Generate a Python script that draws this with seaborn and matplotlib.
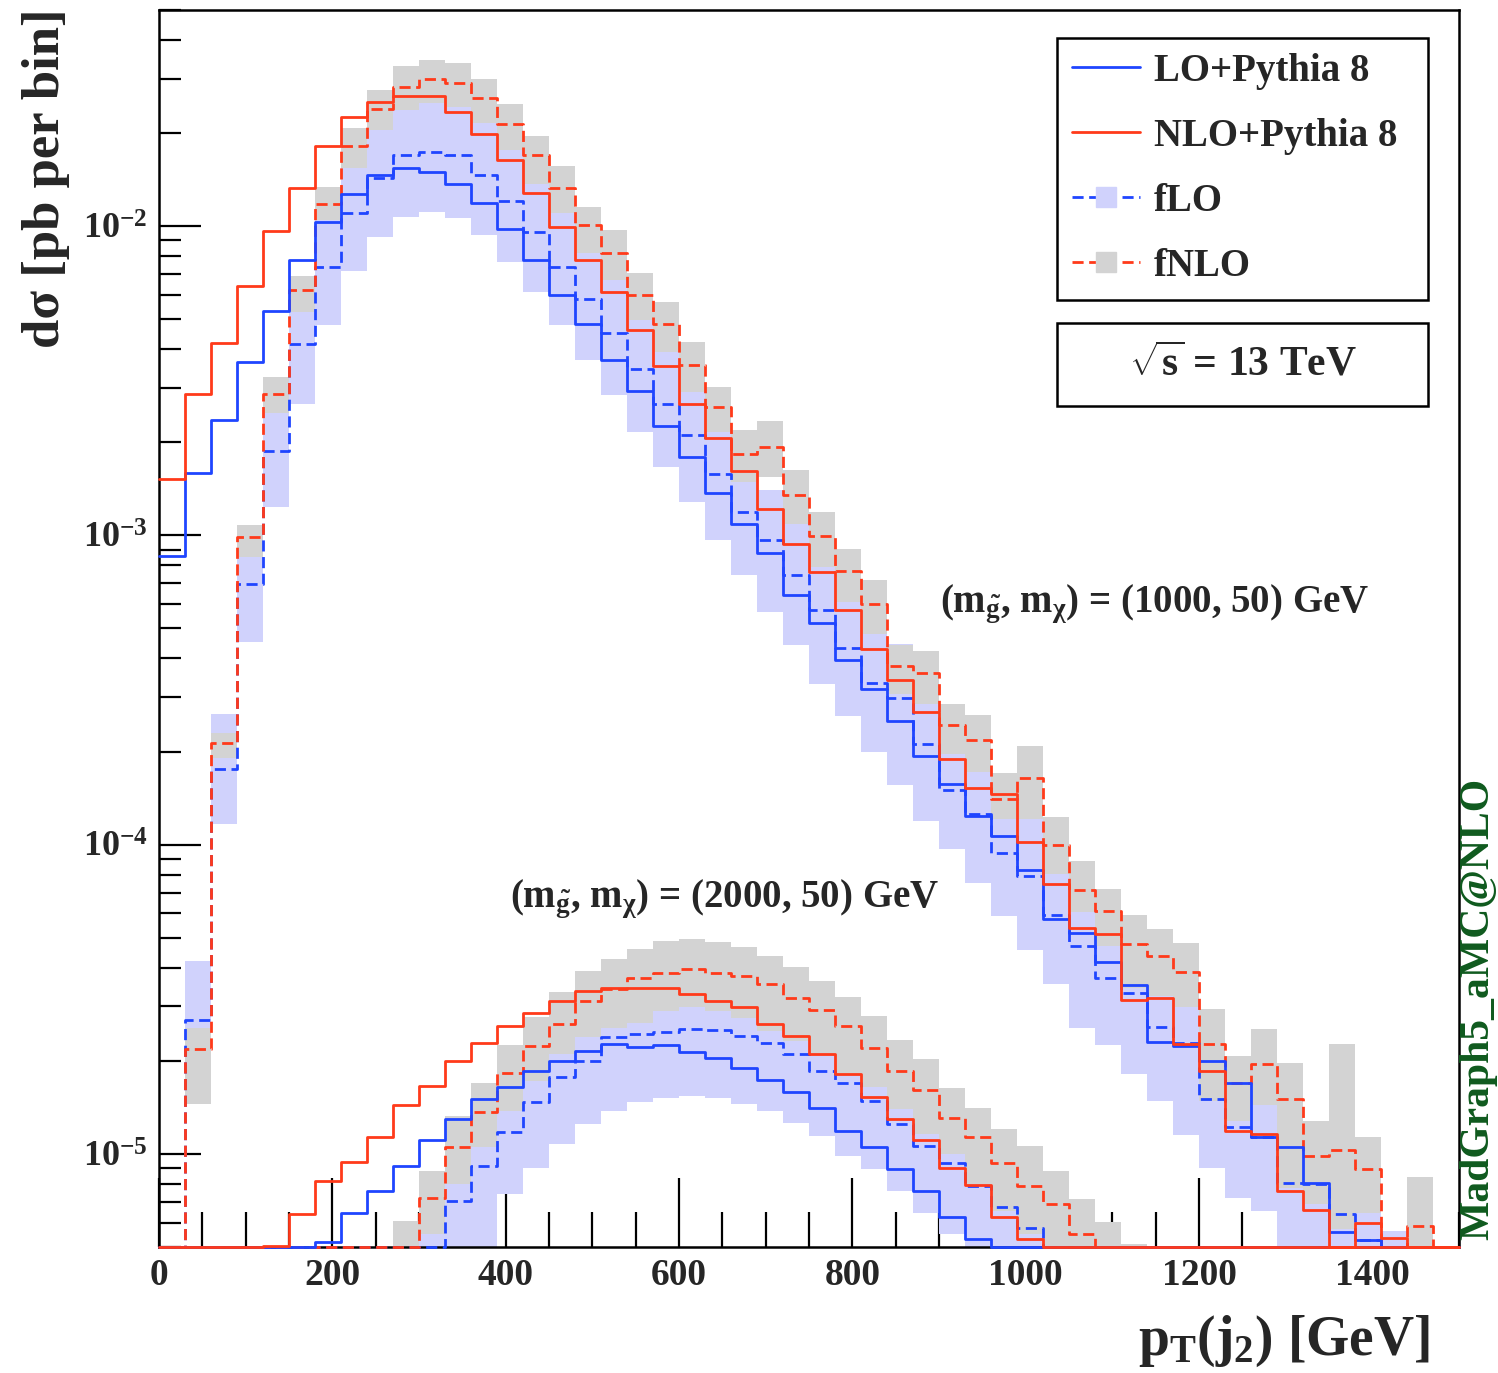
import numpy as np
import pandas as pd
import matplotlib
matplotlib.use("Agg")
import matplotlib.pyplot as plt
import seaborn as sns
from matplotlib.lines import Line2D
from matplotlib.patches import Rectangle
from matplotlib.ticker import MultipleLocator, LogLocator, FuncFormatter, NullFormatter

# ---------------- data: 50 bins of 30 GeV (pT(j2) from 0 to 1500 GeV) ----------------
bin_edges = np.arange(0, 1530, 30)

# (m_gluino, m_chi) = (1000, 50) GeV
lo_1000 = [8.55e-4, 1.59e-3, 2.37e-3, 3.64e-3, 5.32e-3, 7.77e-3, 1.03e-2, 1.27e-2, 1.46e-2, 1.54e-2,
           1.50e-2, 1.37e-2, 1.19e-2, 9.77e-3, 7.77e-3, 5.98e-3, 4.84e-3, 3.70e-3, 2.94e-3, 2.25e-3,
           1.79e-3, 1.37e-3, 1.09e-3, 8.76e-4, 6.43e-4, 5.22e-4, 3.94e-4, 3.19e-4, 2.52e-4, 1.94e-4,
           1.57e-4, 1.24e-4, 1.07e-4, 8.29e-5, 5.77e-5, 5.17e-5, 4.18e-5, 3.53e-5, 2.30e-5, 2.24e-5,
           2.00e-5, 1.69e-5, 1.13e-5, 1.05e-5, 8.07e-6, 5.60e-6, 5.25e-6, 0, 0, 0]
nlo_1000 = [1.52e-3, 2.87e-3, 4.19e-3, 6.41e-3, 9.66e-3, 1.33e-2, 1.82e-2, 2.25e-2, 2.52e-2, 2.64e-2,
            2.64e-2, 2.34e-2, 1.98e-2, 1.64e-2, 1.28e-2, 9.95e-3, 7.77e-3, 6.11e-3, 4.61e-3, 3.52e-3,
            2.67e-3, 2.06e-3, 1.62e-3, 1.22e-3, 9.40e-4, 7.60e-4, 5.72e-4, 4.30e-4, 3.41e-4, 2.68e-4,
            1.89e-4, 1.53e-4, 1.46e-4, 1.02e-4, 7.48e-5, 5.39e-5, 5.13e-5, 3.15e-5, 3.20e-5, 2.26e-5,
            1.86e-5, 1.19e-5, 1.16e-5, 7.60e-6, 6.59e-6, 0, 5.99e-6, 5.33e-6, 0, 0]
flo_1000 = [0, 2.71e-5, 1.76e-4, 6.94e-4, 1.87e-3, 4.17e-3, 7.37e-3, 1.10e-2, 1.43e-2, 1.70e-2,
            1.74e-2, 1.70e-2, 1.46e-2, 1.21e-2, 9.58e-3, 7.37e-3, 5.81e-3, 4.50e-3, 3.45e-3, 2.67e-3,
            2.11e-3, 1.58e-3, 1.19e-3, 9.68e-4, 7.42e-4, 5.72e-4, 4.32e-4, 3.34e-4, 2.97e-4, 2.12e-4,
            1.50e-4, 1.26e-4, 9.39e-5, 7.91e-5, 5.91e-5, 4.71e-5, 3.70e-5, 3.31e-5, 2.58e-5, 2.29e-5,
            1.51e-5, 1.22e-5, 1.13e-5, 8.08e-6, 7.98e-6, 6.41e-6, 5.25e-6, 0, 0, 0]
flo_1000_up = [0, 4.21e-5, 2.65e-4, 1.05e-3, 2.82e-3, 6.29e-3, 1.11e-2, 1.66e-2, 2.15e-2, 2.56e-2,
               2.62e-2, 2.56e-2, 2.20e-2, 1.82e-2, 1.44e-2, 1.11e-2, 8.74e-3, 6.77e-3, 5.21e-3, 4.02e-3,
               3.18e-3, 2.39e-3, 1.79e-3, 1.40e-3, 1.16e-3, 8.61e-4, 6.50e-4, 5.03e-4, 4.47e-4, 3.20e-4,
               2.25e-4, 1.90e-4, 1.41e-4, 1.24e-4, 8.89e-5, 7.09e-5, 5.57e-5, 4.99e-5, 3.88e-5, 3.46e-5,
               2.27e-5, 1.84e-5, 1.70e-5, 1.22e-5, 1.20e-5, 9.66e-6, 7.92e-6, 5.64e-6, 0, 0]
flo_1000_dn = [0, 1.54e-5, 1.17e-4, 4.51e-4, 1.24e-3, 2.67e-3, 4.78e-3, 7.17e-3, 9.23e-3, 1.07e-2,
               1.11e-2, 1.06e-2, 9.35e-3, 7.67e-3, 6.13e-3, 4.78e-3, 3.68e-3, 2.84e-3, 2.16e-3, 1.66e-3,
               1.28e-3, 9.63e-4, 7.42e-4, 5.64e-4, 4.41e-4, 3.31e-4, 2.61e-4, 1.99e-4, 1.56e-4, 1.19e-4,
               9.68e-5, 7.54e-5, 5.86e-5, 4.57e-5, 3.55e-5, 2.55e-5, 2.25e-5, 1.81e-5, 1.48e-5, 1.15e-5,
               9.00e-6, 7.21e-6, 6.54e-6, 0, 0, 0, 0, 0, 0, 0]
fnlo_1000 = [0, 2.19e-5, 2.13e-4, 9.87e-4, 2.86e-3, 6.23e-3, 1.18e-2, 1.81e-2, 2.40e-2, 2.82e-2,
             2.99e-2, 2.91e-2, 2.59e-2, 2.14e-2, 1.70e-2, 1.33e-2, 1.01e-2, 8.17e-3, 5.98e-3, 4.84e-3,
             3.55e-3, 2.60e-3, 1.83e-3, 1.93e-3, 1.35e-3, 9.93e-4, 7.67e-4, 6.02e-4, 3.77e-4, 3.60e-4,
             2.44e-4, 2.18e-4, 1.41e-4, 1.64e-4, 1.00e-4, 7.12e-5, 6.09e-5, 4.78e-5, 4.35e-5, 3.87e-5,
             2.26e-5, 1.70e-5, 1.95e-5, 1.50e-5, 9.83e-6, 1.03e-5, 8.93e-6, 0, 5.85e-6, 0]
fnlo_1000_up = [0, 2.56e-5, 2.29e-4, 1.08e-3, 3.25e-3, 6.91e-3, 1.34e-2, 2.07e-2, 2.76e-2, 3.29e-2,
                3.45e-2, 3.38e-2, 2.99e-2, 2.48e-2, 1.96e-2, 1.57e-2, 1.15e-2, 9.70e-3, 7.06e-3, 5.69e-3,
                4.22e-3, 3.03e-3, 2.19e-3, 2.34e-3, 1.63e-3, 1.19e-3, 9.01e-4, 7.15e-4, 4.41e-4, 4.23e-4,
                2.86e-4, 2.62e-4, 1.70e-4, 2.09e-4, 1.23e-4, 8.83e-5, 7.19e-5, 5.91e-5, 5.33e-5, 4.82e-5,
                2.95e-5, 2.08e-5, 2.54e-5, 1.97e-5, 1.28e-5, 2.27e-5, 1.13e-5, 0, 8.39e-6, 0]
fnlo_1000_dn = [0, 1.45e-5, 1.91e-4, 8.51e-4, 2.48e-3, 5.28e-3, 1.05e-2, 1.54e-2, 2.04e-2, 2.37e-2,
                2.50e-2, 2.43e-2, 2.15e-2, 1.76e-2, 1.37e-2, 1.10e-2, 8.17e-3, 6.70e-3, 4.97e-3, 3.92e-3,
                2.91e-3, 2.16e-3, 1.49e-3, 1.54e-3, 1.09e-3, 7.91e-4, 6.09e-4, 4.81e-4, 3.07e-4, 2.85e-4,
                1.97e-4, 1.72e-4, 1.21e-4, 1.21e-4, 8.01e-5, 6.06e-5, 4.71e-5, 3.45e-5, 3.23e-5, 2.99e-5,
                1.48e-5, 1.28e-5, 1.44e-5, 7.77e-6, 6.87e-6, 5.72e-6, 6.45e-6, 0, 0, 0]

# (m_gluino, m_chi) = (2000, 50) GeV
lo_2000 = [0, 0, 0, 0, 0, 0, 5.19e-6, 6.42e-6, 7.57e-6, 9.16e-6,
           1.11e-5, 1.30e-5, 1.50e-5, 1.65e-5, 1.86e-5, 2.00e-5, 2.15e-5, 2.26e-5, 2.21e-5, 2.25e-5,
           2.14e-5, 2.04e-5, 1.90e-5, 1.73e-5, 1.58e-5, 1.41e-5, 1.19e-5, 1.05e-5, 8.93e-6, 7.56e-6,
           6.24e-6, 5.30e-6, 0, 0, 0, 0, 0, 0, 0, 0,
           0, 0, 0, 0, 0, 0, 0, 0, 0, 0]
nlo_2000 = [0, 0, 0, 0, 5.05e-6, 6.41e-6, 8.17e-6, 9.44e-6, 1.13e-5, 1.44e-5,
            1.66e-5, 2.00e-5, 2.29e-5, 2.60e-5, 2.85e-5, 3.13e-5, 3.37e-5, 3.43e-5, 3.43e-5, 3.43e-5,
            3.28e-5, 3.13e-5, 2.99e-5, 2.63e-5, 2.41e-5, 2.10e-5, 1.81e-5, 1.53e-5, 1.30e-5, 1.11e-5,
            9.02e-6, 7.94e-6, 6.23e-6, 5.32e-6, 0, 0, 0, 0, 0, 0,
            0, 0, 0, 0, 0, 0, 0, 0, 0, 0]
flo_2000 = [0, 0, 0, 0, 0, 0, 0, 0, 0, 0,
            0, 7.06e-6, 9.14e-6, 1.18e-5, 1.47e-5, 1.77e-5, 2.00e-5, 2.39e-5, 2.45e-5, 2.47e-5,
            2.53e-5, 2.51e-5, 2.41e-5, 2.29e-5, 2.10e-5, 1.86e-5, 1.69e-5, 1.48e-5, 1.25e-5, 1.06e-5,
            9.37e-6, 7.87e-6, 6.74e-6, 5.78e-6, 0, 0, 0, 0, 0, 0,
            0, 0, 0, 0, 0, 0, 0, 0, 0, 0]
flo_2000_up = [0, 0, 0, 0, 0, 0, 0, 0, 0, 0,
               5.85e-6, 1.02e-5, 1.33e-5, 1.71e-5, 2.13e-5, 2.58e-5, 2.90e-5, 3.47e-5, 3.55e-5, 3.58e-5,
               3.68e-5, 3.65e-5, 3.50e-5, 3.33e-5, 3.05e-5, 2.70e-5, 2.46e-5, 2.14e-5, 1.82e-5, 1.53e-5,
               1.36e-5, 1.14e-5, 9.78e-6, 8.36e-6, 0, 0, 0, 0, 0, 0,
               0, 0, 0, 0, 0, 0, 0, 0, 0, 0]
flo_2000_dn = [0, 0, 0, 0, 0, 0, 0, 0, 0, 0,
               0, 0, 0, 7.40e-6, 8.98e-6, 1.08e-5, 1.25e-5, 1.38e-5, 1.47e-5, 1.52e-5,
               1.54e-5, 1.52e-5, 1.45e-5, 1.38e-5, 1.26e-5, 1.14e-5, 9.85e-6, 8.93e-6, 7.58e-6, 6.45e-6,
               5.51e-6, 0, 0, 0, 0, 0, 0, 0, 0, 0,
               0, 0, 0, 0, 0, 0, 0, 0, 0, 0]
fnlo_2000 = [0, 0, 0, 0, 0, 0, 0, 0, 0, 0,
             7.22e-6, 1.05e-5, 1.37e-5, 1.82e-5, 2.24e-5, 2.63e-5, 3.13e-5, 3.42e-5, 3.70e-5, 3.86e-5,
             3.96e-5, 3.86e-5, 3.77e-5, 3.54e-5, 3.20e-5, 2.92e-5, 2.60e-5, 2.20e-5, 1.86e-5, 1.61e-5,
             1.31e-5, 1.13e-5, 9.37e-6, 7.87e-6, 6.91e-6, 5.50e-6, 0, 0, 0, 0,
             0, 0, 0, 0, 0, 0, 0, 0, 0, 0]
fnlo_2000_up = [0, 0, 0, 0, 0, 0, 0, 0, 0, 6.07e-6,
                8.83e-6, 1.33e-5, 1.70e-5, 2.25e-5, 2.78e-5, 3.33e-5, 3.89e-5, 4.27e-5, 4.60e-5, 4.89e-5,
                4.95e-5, 4.83e-5, 4.65e-5, 4.37e-5, 4.01e-5, 3.63e-5, 3.22e-5, 2.80e-5, 2.33e-5, 2.02e-5,
                1.63e-5, 1.41e-5, 1.20e-5, 1.06e-5, 8.78e-6, 7.16e-6, 6.03e-6, 5.12e-6, 0, 0,
                0, 0, 0, 0, 0, 0, 0, 0, 0, 0]
fnlo_2000_dn = [0, 0, 0, 0, 0, 0, 0, 0, 0, 0,
                5.51e-6, 7.97e-6, 1.05e-5, 1.38e-5, 1.72e-5, 2.10e-5, 2.38e-5, 2.56e-5, 2.66e-5, 2.90e-5,
                2.98e-5, 2.90e-5, 2.76e-5, 2.50e-5, 2.32e-5, 2.08e-5, 1.81e-5, 1.64e-5, 1.40e-5, 1.16e-5,
                9.98e-6, 7.99e-6, 6.54e-6, 5.51e-6, 0, 0, 0, 0, 0, 0,
                0, 0, 0, 0, 0, 0, 0, 0, 0, 0]

legend_labels = ["LO+Pythia 8", "NLO+Pythia 8", "fLO", "fNLO"]
mass_labels = [r"(m$_{\tilde{g}}$, m$_{\chi}$) = (1000, 50) GeV",
               r"(m$_{\tilde{g}}$, m$_{\chi}$) = (2000, 50) GeV"]

# ---------------- style ----------------
sns.set_style("ticks")
plt.rcParams["font.family"] = ["Liberation Serif", "DejaVu Serif"]
plt.rcParams["font.weight"] = "bold"
plt.rcParams["mathtext.fontset"] = "custom"
plt.rcParams["mathtext.rm"] = "Liberation Serif:bold"
plt.rcParams["mathtext.it"] = "Liberation Serif:italic:bold"
plt.rcParams["mathtext.bf"] = "Liberation Serif:bold"
plt.rcParams["mathtext.default"] = "rm"

BLUE = "#1f45ff"
RED = "#ff3a1a"
LIGHTBLUE = "#d0d2fc"
GREY = "#d3d3d3"
DASH = (0, (4, 2))
LW = 2.0
YMIN, YMAX = 5e-6, 5e-2

fig = plt.figure(figsize=(14.98, 13.73), dpi=100)
ax = fig.add_axes([0.1061, 0.09177, 0.9740 - 0.1061, 0.99272 - 0.09177])
ax.set_yscale("log")


def ext(v):
    v = np.asarray(v, dtype=float)
    return np.append(v, v[-1])


def band(lo, hi, color):
    ax.fill_between(bin_edges, np.maximum(ext(lo), 1e-9), np.maximum(ext(hi), 1e-9),
                    step="post", color=color, linewidth=0, zorder=2)


def hist_line(vals, color, ls):
    df = pd.DataFrame({"pt": bin_edges, "xs": np.clip(ext(vals), YMIN, None)})
    sns.lineplot(data=df, x="pt", y="xs", ax=ax, color=color, lw=LW, linestyle=ls,
                 drawstyle="steps-post", estimator=None, sort=False, legend=False,
                 zorder=3, clip_on=False)


# bands: fLO first, fNLO on top
band(flo_1000_dn, flo_1000_up, LIGHTBLUE)
band(flo_2000_dn, flo_2000_up, LIGHTBLUE)
band(fnlo_1000_dn, fnlo_1000_up, GREY)
band(fnlo_2000_dn, fnlo_2000_up, GREY)

for v in (flo_1000, flo_2000):
    hist_line(v, BLUE, DASH)
for v in (fnlo_1000, fnlo_2000):
    hist_line(v, RED, DASH)
for v in (lo_1000, lo_2000):
    hist_line(v, BLUE, "-")
for v in (nlo_1000, nlo_2000):
    hist_line(v, RED, "-")

ax.set_xlim(0, 1500)
ax.set_ylim(YMIN, YMAX)
ax.set_xlabel("")
ax.set_ylabel("")

ax.xaxis.set_major_locator(MultipleLocator(200))
ax.xaxis.set_minor_locator(MultipleLocator(50))
ax.yaxis.set_major_locator(LogLocator(base=10, numticks=12))
ax.yaxis.set_minor_locator(LogLocator(base=10, subs=np.arange(2, 10), numticks=40))
ax.yaxis.set_major_formatter(FuncFormatter(lambda v, p: r"$\mathbf{10^{%d}}$" % int(round(np.log10(v)))))
ax.yaxis.set_minor_formatter(NullFormatter())
ax.xaxis.set_major_formatter(FuncFormatter(lambda v, p: "%d" % v))

ax.tick_params(axis="both", which="both", direction="in", top=False, right=False,
               width=1.6, color="black")
ax.tick_params(axis="x", which="major", length=50, labelsize=27, pad=8)
ax.tick_params(axis="x", which="minor", length=25)
ax.tick_params(axis="y", which="major", length=30, labelsize=26, pad=8)
ax.tick_params(axis="y", which="minor", length=16)
for s in ax.spines.values():
    s.set_linewidth(1.8)
    s.set_color("black")
    s.set_visible(True)

# legend
handles = [
    Line2D([], [], color=BLUE, lw=LW),
    Line2D([], [], color=RED, lw=LW),
    Line2D([], [], color=BLUE, lw=LW, ls=DASH, marker="s", ms=14, mfc=LIGHTBLUE, mec=LIGHTBLUE),
    Line2D([], [], color=RED, lw=LW, ls=DASH, marker="s", ms=14, mfc=GREY, mec=GREY),
]
leg = ax.legend(handles, legend_labels, loc="upper left",
                bbox_to_anchor=(0.6908, 0.9774, 0.9762 - 0.6908, 0.0), mode="expand",
                borderaxespad=0, fontsize=28, frameon=True, fancybox=False, edgecolor="black",
                framealpha=1, handlelength=1.75, handletextpad=0.35, labelspacing=0.72,
                borderpad=0.38, numpoints=1)
leg.get_frame().set_linewidth(1.8)
leg.set_zorder(6)

# sqrt(s) box
ax.add_patch(Rectangle((0.6908, 0.6799), 0.9762 - 0.6908, 0.747 - 0.6799, transform=ax.transAxes,
                       facecolor="white", edgecolor="black", lw=1.8, zorder=5))
ax.text(0.8335, 0.7135, r"$\sqrt{s}$ = 13 TeV", transform=ax.transAxes, ha="center", va="center",
        fontsize=30, zorder=6)

# mass labels
ax.text(0.6008, 0.5133, mass_labels[0], transform=ax.transAxes, ha="left", va="baseline",
        fontsize=28, zorder=6)
ax.text(0.2700, 0.2749, mass_labels[1], transform=ax.transAxes, ha="left", va="baseline",
        fontsize=28, zorder=6)

# axis titles
fig.text(46 / 1498, 1 - 8 / 1373, "d\u03c3 [pb per bin]", rotation=90, ha="center", va="top",
         fontsize=38, fontweight="bold")
fig.text(1430 / 1498, 0.003, r"p$_{\mathrm{T}}$(j$_{\mathrm{2}}$) [GeV]", ha="right", va="bottom",
         fontsize=40, fontweight="bold")

# watermark
fig.text(1478 / 1498, 0.0969, "MadGraph5_aMC@NLO", rotation=90, ha="center", va="bottom",
         color="#0f5a1e", fontsize=30, fontweight="bold")

fig.savefig("out.png", dpi=100)
